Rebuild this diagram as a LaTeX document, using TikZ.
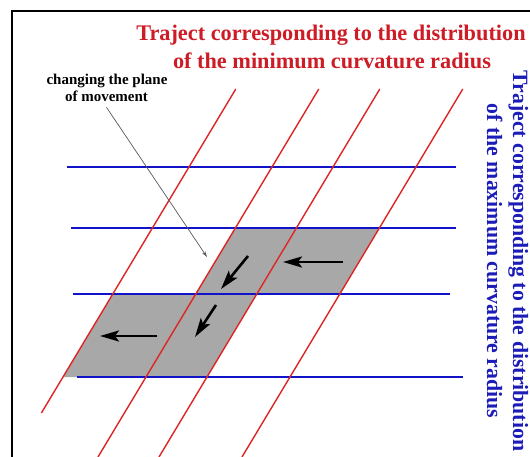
\documentclass[tikz,border=0pt]{standalone}
\usepackage{fontspec}
\setmainfont{Liberation Serif}
\usetikzlibrary{arrows.meta,positioning}
\definecolor{trajred}{RGB}{205,28,38}
\definecolor{linered}{RGB}{222,38,38}
\definecolor{lineblue}{RGB}{18,18,200}
\definecolor{trajblue}{RGB}{28,28,185}
\definecolor{zonegray}{RGB}{168,168,168}

\begin{document}
\begin{tikzpicture}[
    x=1pt, y=-1pt,
    redtraj/.style={draw=linered, line width=1.4pt},
    bluetraj/.style={draw=lineblue, line width=2.6pt},
    zone/.style={fill=zonegray},
    move/.style={-{Stealth[length=19pt,width=11pt,inset=4pt]}, line width=2.6pt},
    leader/.style={-{Stealth[length=6pt,width=3.5pt]}, draw=black!65, line width=0.7pt},
    redtitle/.style={text=trajred, font=\fontsize{22.3}{28}\selectfont\bfseries, inner sep=0pt, anchor=base},
    bluetitle/.style={text=trajblue, font=\fontsize{21.8}{28}\selectfont\bfseries, inner sep=0pt, anchor=base, rotate=-90},
    note/.style={font=\fontsize{15}{17}\selectfont\bfseries, inner sep=0pt, anchor=base}
]
\useasboundingbox (0,0) rectangle (530,457);
\clip (0,0) rectangle (530,457);

% frame
\draw[line width=1.2pt] (12,457) |- (530,11);

% shaded zones
\fill[zone] (235.4,228) -- (379.4,228) -- (339.8,294) -- (195.8,294) -- cycle;
\fill[zone] (112.8,294) -- (256.8,294) -- (207,377) -- (63,377) -- cycle;

% maximum curvature radius trajects
\draw[bluetraj] (67,167) -- (456,167);
\draw[bluetraj] (71,228) -- (456,228);
\draw[bluetraj] (73,294) -- (450,294);
\draw[bluetraj] (77,377) -- (463,377);

% minimum curvature radius trajects
\draw[redtraj] (235.8,89) -- (41.4,413);
\draw[redtraj] (318.8,89) -- (98,457);
\draw[redtraj] (379.8,89) -- (159,457);
\draw[redtraj] (462.8,89) -- (242,457);

% direction of movement
\draw[move] (343,262) -- (283,262);
\draw[move] (248,256) -- (221,289);
\draw[move] (216,305) -- (195,337);
\draw[move] (157,336) -- (100,336);

% titles
\node[redtitle] (mintitle) at (331,41) {Traject corresponding to the distribution};
\node[redtitle] (minradius) at (332,69) {of the minimum curvature radius};
\node[bluetitle] (maxtitle) at (513,261) {Traject corresponding to the distribution};
\node[bluetitle] (maxradius) at (487,261) {of the maximum curvature radius};

% note
\node[note] (noteone) at (107,85) {changing the plane};
\node[note] (notetwo) at (106.5,102) {of movement};
\coordinate (notetip) at (207,257);
\draw[leader] ([yshift=-5pt]notetwo.south) -- (notetip);
\end{tikzpicture}
\end{document}
